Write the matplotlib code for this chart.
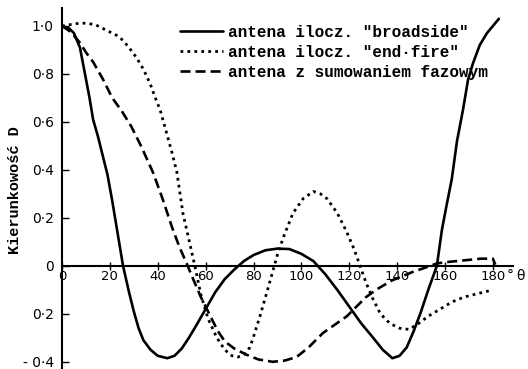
import matplotlib
matplotlib.use("Agg")
import matplotlib.pyplot as plt

# Directivity D versus angle (degrees) for three antenna arrangements
broadside_deg = [0, 3, 5, 7.5, 9.6, 11.5, 13, 15, 17, 19, 21, 23, 25.5, 28, 30, 32, 34,
                 37, 40, 44, 47, 50, 53, 56, 60, 64, 68, 72, 76, 80, 85, 90, 95, 100,
                 105, 110, 115, 120, 125, 130, 134, 138, 141, 144, 147, 150, 153,
                 156.6, 158.7, 160.8, 162.8, 165, 167.5, 169.6, 171.7, 174.5, 177.5,
                 180, 182.5]
broadside_d = [1.00, 0.99, 0.97, 0.91, 0.80, 0.70, 0.61, 0.54, 0.46, 0.38, 0.27, 0.15,
               0.0, -0.11, -0.19, -0.26, -0.31, -0.35, -0.375, -0.385, -0.375, -0.345,
               -0.30, -0.25, -0.18, -0.11, -0.055, -0.015, 0.02, 0.045, 0.065, 0.072,
               0.07, 0.05, 0.02, -0.035, -0.10, -0.17, -0.24, -0.30, -0.35, -0.385,
               -0.375, -0.34, -0.27, -0.19, -0.10, 0.0, 0.15, 0.26, 0.36, 0.52, 0.65,
               0.775, 0.845, 0.92, 0.97, 1.00, 1.03]

endfire_deg = [0, 3, 6, 10, 14, 17, 20, 23, 25.5, 28, 31, 34, 36.8, 39, 41, 43.8, 46,
               48, 50.5, 53, 55.5, 58, 61, 64.7, 68, 71, 73.5, 76, 78.5, 80.5, 82.7,
               85, 87, 89.8, 92.5, 96.5, 100.7, 105, 108, 110.7, 115, 119, 122, 124.5,
               127, 130, 133, 137, 141, 145, 149, 153, 158, 163, 168, 174, 180]
endfire_d = [1.00, 1.005, 1.01, 1.012, 1.005, 0.99, 0.975, 0.96, 0.94, 0.91, 0.87,
             0.82, 0.76, 0.70, 0.65, 0.55, 0.47, 0.39, 0.22, 0.11, 0.0, -0.12, -0.22,
             -0.30, -0.35, -0.375, -0.38, -0.37, -0.34, -0.28, -0.21, -0.13, -0.06,
             0.04, 0.12, 0.22, 0.28, 0.31, 0.30, 0.28, 0.22, 0.14, 0.07, 0.0, -0.07,
             -0.14, -0.20, -0.24, -0.26, -0.265, -0.24, -0.21, -0.18, -0.15, -0.13,
             -0.115, -0.10]

phased_deg = [0, 3, 5, 7.5, 10, 13, 17, 21, 25, 29, 33, 38, 42, 46, 49, 52.5, 55, 58,
              62, 65, 68, 72, 77, 82, 88, 93, 98, 103, 109, 114, 119, 124, 127, 132,
              138, 146.6, 151, 156.6, 160, 165, 170, 175, 180, 181]
phased_d = [1.00, 0.98, 0.96, 0.93, 0.89, 0.85, 0.78, 0.70, 0.645, 0.58, 0.50, 0.39,
            0.28, 0.16, 0.08, 0.0, -0.06, -0.13, -0.21, -0.27, -0.315, -0.345, -0.37,
            -0.39, -0.40, -0.395, -0.38, -0.34, -0.28, -0.245, -0.21, -0.16, -0.13,
            -0.095, -0.06, -0.025, -0.01, 0.01, 0.015, 0.02, 0.025, 0.03, 0.03, 0.005]

x_ticks = [0, 20, 40, 60, 80, 100, 120, 140, 160, 180]
x_tick_labels = ["0", "20", "40", "60", "80", "100", "120", "140", "160", "180"]
y_ticks = [1.0, 0.8, 0.6, 0.4, 0.2, 0.0, -0.2, -0.4]
y_tick_labels = ["1\u00b70", "0\u00b78", "0\u00b76", "0\u00b74", "0\u00b72", "0",
                 "0\u00b72", "-\u00a00\u00b74"]

legend_labels = ['antena ilocz. "broadside"',
                 'antena ilocz. "end\u00b7fire"',
                 'antena z sumowaniem fazowym']
y_label = "Kierunkowo\u015b\u0107 D"

W, H = 528, 369
fig = plt.figure(figsize=(W / 100, H / 100), dpi=100)
ax = fig.add_axes([62 / W, 0, (513 - 62) / W, (H - 8) / H])
ax.set_xlim(0, 188.4)
ax.set_ylim(-0.43, 1.075)

typewriter = dict(family="Liberation Mono", weight="bold")

l1, = ax.plot(broadside_deg, broadside_d, color="black", lw=1.9,
              solid_capstyle="round")
l2, = ax.plot(endfire_deg, endfire_d, color="black", lw=2.0,
              linestyle=(0, (1.0, 1.5)))
l3, = ax.plot(phased_deg, phased_d, color="black", lw=1.9,
              linestyle=(0, (3.8, 1.9)))

for side in ("top", "right"):
    ax.spines[side].set_visible(False)
ax.spines["bottom"].set_position(("data", 0))
ax.spines["left"].set_linewidth(1.5)
ax.spines["bottom"].set_linewidth(1.5)

ax.set_xticks(x_ticks)
ax.set_xticklabels(x_tick_labels, fontsize=9.5, family="DejaVu Sans")
ax.set_yticks(y_ticks)
ax.set_yticklabels(y_tick_labels, fontsize=10, family="DejaVu Sans")
ax.tick_params(axis="x", direction="inout", length=6, width=1.0, pad=0)
ax.tick_params(axis="y", direction="in", length=5, width=1.0, pad=6)

# degree sign after the last tick label and the angle symbol at the axis end
ax.text(185.6, -0.012, "\u00b0", fontsize=10, ha="left", va="top",
        family="DejaVu Sans", clip_on=False)
ax.text(189.6, -0.012, "\u03b8", fontsize=10, ha="left", va="top",
        family="DejaVu Sans", clip_on=False)

fig.text(15 / W, 1 - 190 / H, y_label, rotation=90, ha="center", va="center",
         fontsize=11, **typewriter)

ax.legend([l1, l2, l3], legend_labels, loc="upper left",
          bbox_to_anchor=(180 / W, 1 - 25 / H), bbox_transform=fig.transFigure,
          frameon=False, borderpad=0, borderaxespad=0, handlelength=2.7,
          handletextpad=0.3, labelspacing=0.3,
          prop=dict(family="Liberation Mono", weight="bold", size=11.5))

fig.savefig("out.png", dpi=100)
